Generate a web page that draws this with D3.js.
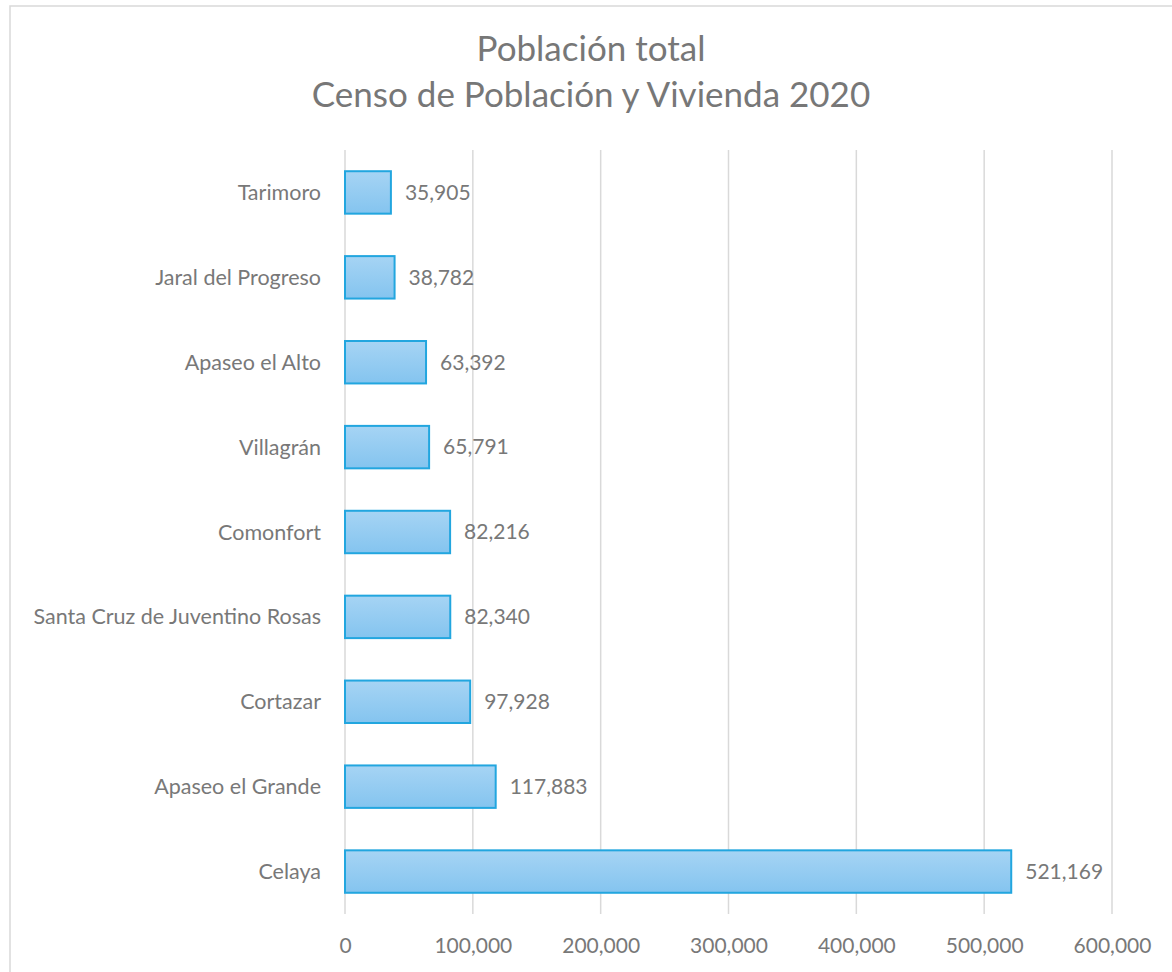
<!DOCTYPE html>
<html>
<head>
<meta charset="utf-8">
<script src="https://cdn.jsdelivr.net/npm/d3@7"></script>
<style>
  body { margin: 0; background: #fff; }
  text { font-family: Lato, "Open Sans", sans-serif; fill: #787878; }
</style>
</head>
<body>
<svg id="chart" width="1172" height="972"></svg>
<script>
// data (top to bottom)
var municipios = ["Tarimoro", "Jaral del Progreso", "Apaseo el Alto", "Villagrán", "Comonfort",
                  "Santa Cruz de Juventino Rosas", "Cortazar", "Apaseo el Grande", "Celaya"];
var poblacion = [35905, 38782, 63392, 65791, 82216, 82340, 97928, 117883, 521169];
var xTicks = [0, 100000, 200000, 300000, 400000, 500000, 600000];
var titleLines = ["Población total", "Censo de Población y Vivienda 2020"];

var rows = municipios.map((m, i) => ({name: m, value: poblacion[i]}));

var margin = {top: 150, left: 345, right: 60, bottom: 58};
var W = 1172, H = 972;
var width = W - margin.left - margin.right,   // 767
    height = H - margin.top - margin.bottom;  // 764

var svg = d3.select("#chart");

// chart area frame (right/bottom edges run off the picture)
svg.append("rect")
  .attr("x", 10).attr("y", 6)
  .attr("width", 1170).attr("height", 980)
  .attr("fill", "none")
  .attr("stroke", "#d9d9d9")
  .attr("stroke-width", 1.5);

// gradient for bars
var grad = svg.append("defs").append("linearGradient")
  .attr("id", "barGrad").attr("x1", 0).attr("y1", 0).attr("x2", 0).attr("y2", 1);
grad.append("stop").attr("offset", "0%").attr("stop-color", "#a6d4f4");
grad.append("stop").attr("offset", "100%").attr("stop-color", "#84c4ef");

// title
svg.append("g").selectAll("text")
  .data(titleLines)
  .join("text")
    .attr("x", 591)
    .attr("y", (d, i) => 61 + i * 46)
    .attr("text-anchor", "middle")
    .style("font-size", "35px")
    .style("fill", "#777777")
    .text(d => d);

var g = svg.append("g").attr("transform", `translate(${margin.left},${margin.top})`);

var xScale = d3.scaleLinear().domain([0, 600000]).range([0, width]);
var yScale = d3.scaleBand()
  .domain(municipios)
  .range([0, height])
  .paddingInner(0.5)
  .paddingOuter(0.25);

// gridlines
g.selectAll("line.grid")
  .data(xTicks)
  .join("line")
    .attr("class", "grid")
    .attr("x1", d => xScale(d)).attr("x2", d => xScale(d))
    .attr("y1", 0).attr("y2", height)
    .attr("stroke", "#d9d9d9")
    .attr("stroke-width", 1.5);

// x axis labels
var xAxis = d3.axisBottom(xScale)
  .tickValues(xTicks)
  .tickFormat(d3.format(","))
  .tickSize(0)
  .tickPadding(24);
var xa = g.append("g").attr("transform", `translate(0,${height})`).call(xAxis);
xa.select(".domain").remove();
xa.selectAll("text")
  .attr("font-family", null)
  .style("font-size", "21px")
  .style("fill", "#787878");

// y axis labels
var yAxis = d3.axisLeft(yScale).tickSize(0).tickPadding(24);
var ya = g.append("g").call(yAxis);
ya.select(".domain").remove();
ya.selectAll("text")
  .attr("font-family", null)
  .attr("dy", "0.35em")
  .style("font-size", "21.5px")
  .style("fill", "#787878");

// bars
g.selectAll("rect.bar")
  .data(rows)
  .join("rect")
    .attr("class", "bar")
    .attr("x", xScale(0))
    .attr("y", d => yScale(d.name))
    .attr("width", d => xScale(d.value) - xScale(0))
    .attr("height", yScale.bandwidth())
    .attr("fill", "url(#barGrad)")
    .attr("stroke", "#22a6df")
    .attr("stroke-width", 2);

// value labels
g.selectAll("text.val")
  .data(rows)
  .join("text")
    .attr("class", "val")
    .attr("x", d => xScale(d.value) + 14)
    .attr("y", d => yScale(d.name) + yScale.bandwidth() / 2)
    .attr("dy", "0.35em")
    .style("font-size", "21px")
    .text(d => d3.format(",")(d.value));
</script>
</body>
</html>
